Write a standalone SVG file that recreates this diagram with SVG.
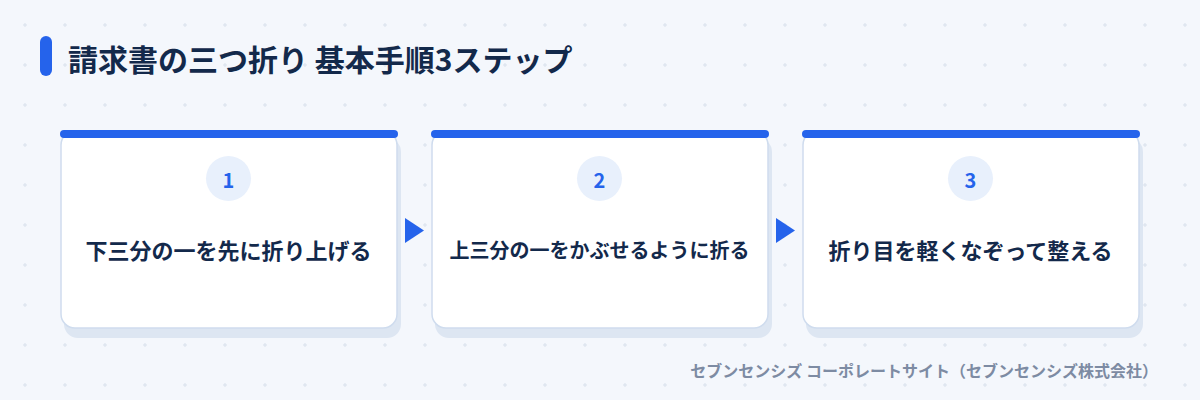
<svg xmlns="http://www.w3.org/2000/svg" width="1200" height="400" viewBox="0 0 1200 400">
  <defs>
    <pattern id="grid" x="0" y="0" width="40" height="40" patternUnits="userSpaceOnUse">
      <path d="M23 25h4M25 23v4" stroke="#d9e1ec" stroke-width="1"/>
    </pattern>
    <style>
      .title{font-family:"Noto Sans CJK JP","Noto Sans",sans-serif;font-weight:700;font-size:30px;fill:#13294b}
      .shadow{fill:#dde6f2}
      .card{fill:#ffffff;stroke:#cfdcee;stroke-width:1.5}
      .bar{fill:#2563eb}
      .badge{fill:#e8f0fc}
      .num{font-family:"Noto Sans CJK JP","Noto Sans",sans-serif;font-weight:700;font-size:20px;fill:#2563eb;text-anchor:middle}
      .label{font-family:"Noto Sans CJK JP","Noto Sans",sans-serif;font-weight:700;font-size:22px;fill:#13294b;text-anchor:middle}
      .arrow{fill:#2563eb}
      .foot{font-family:"Noto Sans CJK JP","Noto Sans",sans-serif;font-weight:700;font-size:16px;fill:#7d8ba3;text-anchor:end}
    </style>
  </defs>
  <rect width="1200" height="400" fill="#f4f7fc"/>
  <rect width="1200" height="400" fill="url(#grid)"/>

  <g id="title">
    <rect x="40" y="36" width="12" height="40" rx="6" fill="#2563eb"/>
    <text class="title" x="68" y="71">請求書の三つ折り 基本手順3ステップ</text>
  </g>

  <g id="step1">
    <rect class="shadow" x="64" y="138" width="337" height="200" rx="14"/>
    <rect class="card" x="61" y="131" width="336" height="197" rx="14"/>
    <rect class="bar" x="60" y="130" width="338" height="8" rx="4"/>
    <circle class="badge" cx="228.5" cy="178.5" r="22.5"/>
    <text class="num" x="228.5" y="188">1</text>
    <text class="label" x="228.5" y="259">下三分の一を先に折り上げる</text>
  </g>

  <g id="step2">
    <rect class="shadow" x="435" y="138" width="337" height="200" rx="14"/>
    <rect class="card" x="432" y="131" width="336" height="197" rx="14"/>
    <rect class="bar" x="431" y="130" width="338" height="8" rx="4"/>
    <circle class="badge" cx="599.5" cy="178.5" r="22.5"/>
    <text class="num" x="599.5" y="188">2</text>
    <text class="label" x="599.5" y="258" style="font-size:20px">上三分の一をかぶせるように折る</text>
  </g>

  <g id="step3">
    <rect class="shadow" x="806" y="138" width="337" height="200" rx="14"/>
    <rect class="card" x="803" y="131" width="336" height="197" rx="14"/>
    <rect class="bar" x="802" y="130" width="338" height="8" rx="4"/>
    <circle class="badge" cx="970.5" cy="178.5" r="22.5"/>
    <text class="num" x="970.5" y="188">3</text>
    <text class="label" x="970.5" y="259">折り目を軽くなぞって整える</text>
  </g>

  <g id="connectors">
    <polygon class="arrow" points="405,218 424,230.5 405,243"/>
    <polygon class="arrow" points="776,218 795,230.5 776,243"/>
  </g>

  <text class="foot" x="1158" y="377">セブンセンシズ コーポレートサイト（セブンセンシズ株式会社）</text>
</svg>
